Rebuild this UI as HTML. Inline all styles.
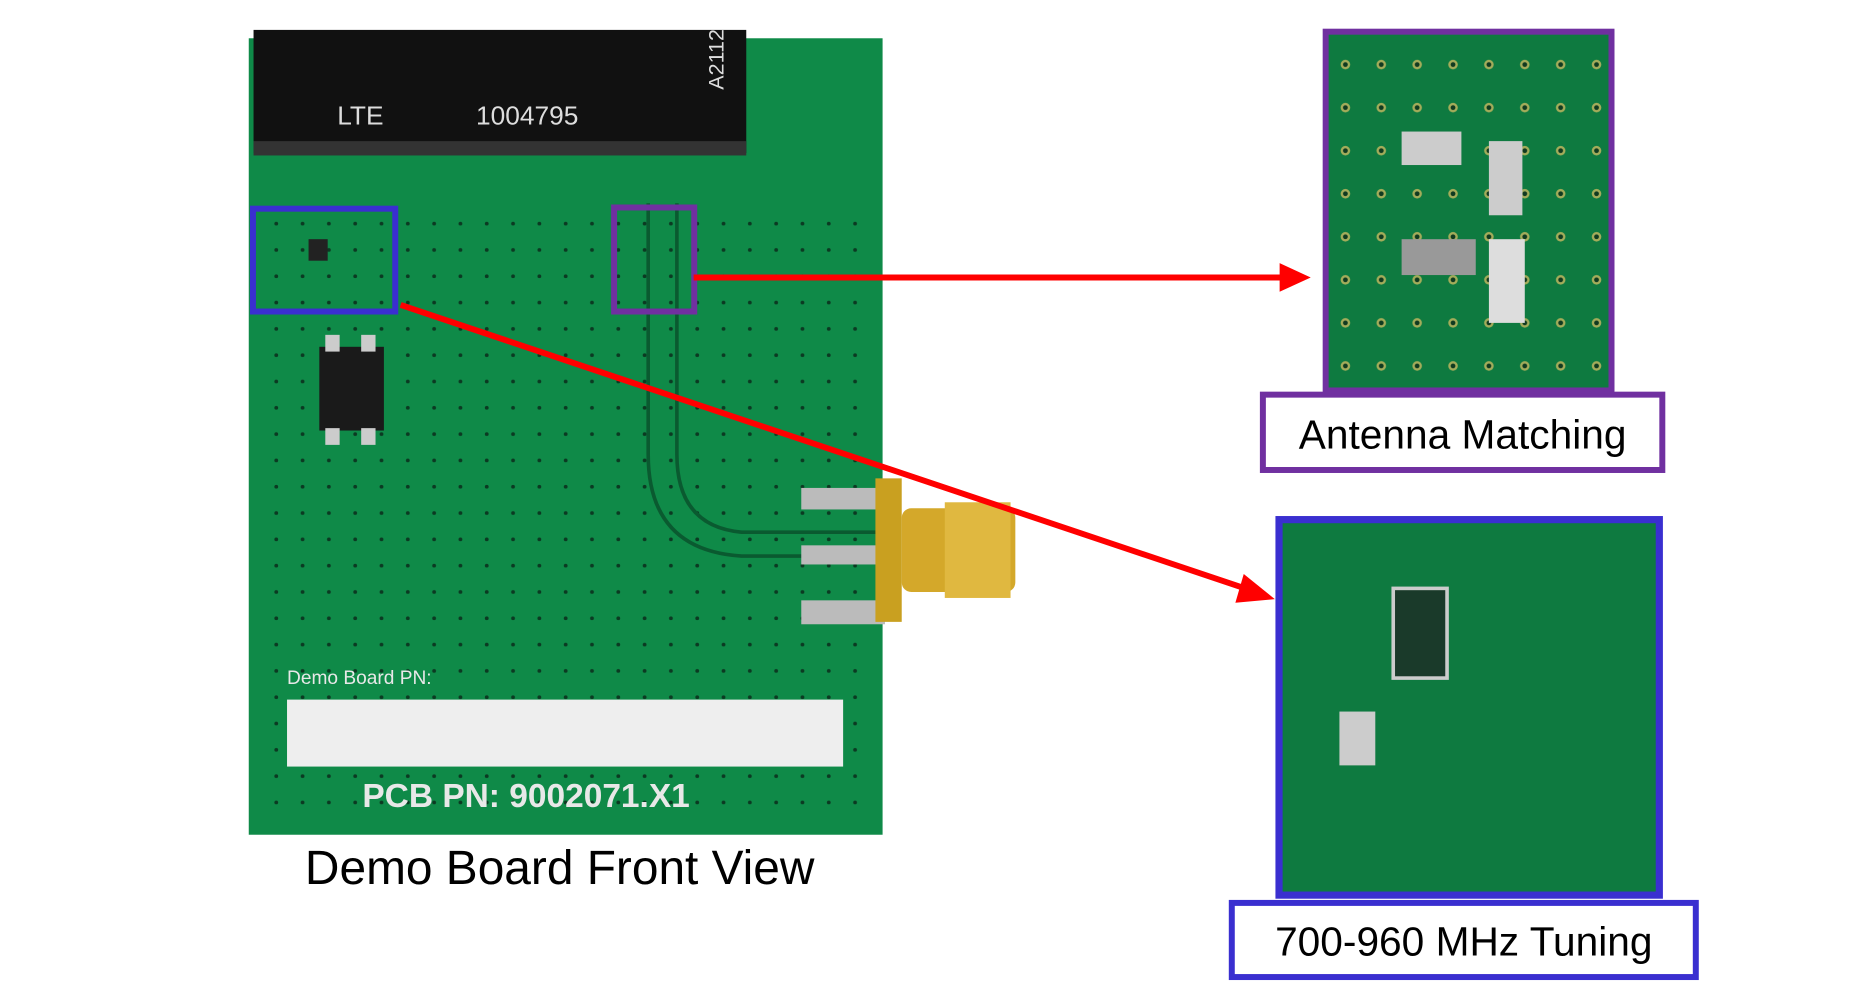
<!DOCTYPE html>
<html><head><meta charset="utf-8"><style>
html,body{margin:0;padding:0;background:#fff;width:1874px;height:992px;overflow:hidden}
svg{display:block}
text{font-family:"Liberation Sans",sans-serif}
</style></head><body>
<svg width="1874" height="992" viewBox="0 0 1567 829.5" xmlns="http://www.w3.org/2000/svg">
<defs>
<pattern id="vias" x="0" y="0" width="22" height="22" patternUnits="userSpaceOnUse">
<circle cx="11" cy="11" r="1.6" fill="#0b3a22"/>
</pattern>
<pattern id="vias2" width="30" height="36" patternUnits="userSpaceOnUse">
<circle cx="15" cy="18" r="4" fill="#c8b860"/><circle cx="15" cy="18" r="2" fill="#102a18"/>
</pattern>
</defs>
<rect x="208" y="32" width="530" height="666" fill="#0f8a48"/>
<rect x="214" y="185" width="520" height="505" fill="url(#vias)"/>
<rect x="212" y="25" width="412" height="103" fill="#111"/>
<rect x="212" y="118" width="412" height="12" fill="#333"/>
<text x="282" y="104" fill="#ddd" font-size="22">LTE</text>
<text x="398" y="104" fill="#ddd" font-size="22">1004795</text>
<text x="605" y="75" fill="#ddd" font-size="18" transform="rotate(-90 605 75)">A2112</text>
<path d="M542 170 V380 Q542 460 620 465 H735" fill="none" stroke="#0a5a30" stroke-width="3"/>
<path d="M566 170 V380 Q566 440 620 445 H735" fill="none" stroke="#0a5a30" stroke-width="3"/>
<rect x="267" y="290" width="54" height="70" fill="#1a1a1a"/>
<rect x="272" y="280" width="12" height="14" fill="#ccc"/><rect x="302" y="280" width="12" height="14" fill="#ccc"/>
<rect x="272" y="358" width="12" height="14" fill="#ccc"/><rect x="302" y="358" width="12" height="14" fill="#ccc"/>
<rect x="670" y="408" width="70" height="18" fill="#bbb"/>
<rect x="670" y="456" width="70" height="16" fill="#bbb"/>
<rect x="670" y="502" width="70" height="20" fill="#bbb"/>
<rect x="732" y="400" width="22" height="120" fill="#c9a020"/>
<rect x="754" y="425" width="95" height="70" rx="8" fill="#d4a82a"/>
<rect x="790" y="420" width="55" height="80" fill="#e0b840"/>
<text x="240" y="572" fill="#e8e8e8" font-size="16" font-family="Liberation Mono">Demo Board PN:</text>
<rect x="240" y="585" width="465" height="56" fill="#eee"/>
<text x="303" y="675" fill="#e8e8e8" font-size="28" font-family="Liberation Mono" font-weight="bold">PCB PN: 9002071.X1</text>
<rect x="211.5" y="174.5" width="119" height="86" fill="none" stroke="#3a2fd0" stroke-width="5"/>
<rect x="258" y="200" width="16" height="18" fill="#222"/>
<rect x="513.5" y="173.5" width="67" height="87" fill="none" stroke="#7030a0" stroke-width="5"/>
<rect x="1108" y="25" width="242" height="302" fill="#0e7a40"/>
<rect x="1108" y="25" width="242" height="302" fill="url(#vias2)" opacity="0.8"/>
<rect x="1172" y="110" width="50" height="28" fill="#ccc"/><rect x="1245" y="118" width="28" height="62" fill="#ccc"/>
<rect x="1172" y="200" width="62" height="30" fill="#999"/><rect x="1245" y="200" width="30" height="70" fill="#ddd"/>
<rect x="1108.5" y="26.5" width="239" height="300" fill="none" stroke="#7030a0" stroke-width="5"/>
<rect x="1056" y="330" width="334" height="63" fill="#fff" stroke="#7030a0" stroke-width="5"/>
<text x="1223" y="375" font-size="34" text-anchor="middle" fill="#000">Antenna Matching</text>
<rect x="1067" y="432" width="323" height="318" fill="#0e7a40"/>
<rect x="1165" y="492" width="45" height="75" fill="#1a3a2a" stroke="#ccc" stroke-width="3"/>
<rect x="1120" y="595" width="30" height="45" fill="#ccc"/>
<rect x="1069.5" y="434.5" width="318" height="314" fill="none" stroke="#3a2fd0" stroke-width="6"/>
<rect x="1030" y="755" width="388" height="62" fill="#fff" stroke="#3a2fd0" stroke-width="5"/>
<text x="1224" y="799" font-size="34" text-anchor="middle" fill="#000">700-960 MHz Tuning</text>
<line x1="580" y1="232" x2="1072" y2="232" stroke="#f00" stroke-width="5"/>
<polygon points="1070,220 1096,232 1070,244" fill="#f00"/>
<line x1="335" y1="255" x2="1044" y2="493" stroke="#f00" stroke-width="5"/>
<polygon points="1040,480 1066,501 1033,504" fill="#f00"/>
<text x="468" y="739" font-size="40" text-anchor="middle" fill="#000">Demo Board Front View</text>
</svg>
</body></html>
